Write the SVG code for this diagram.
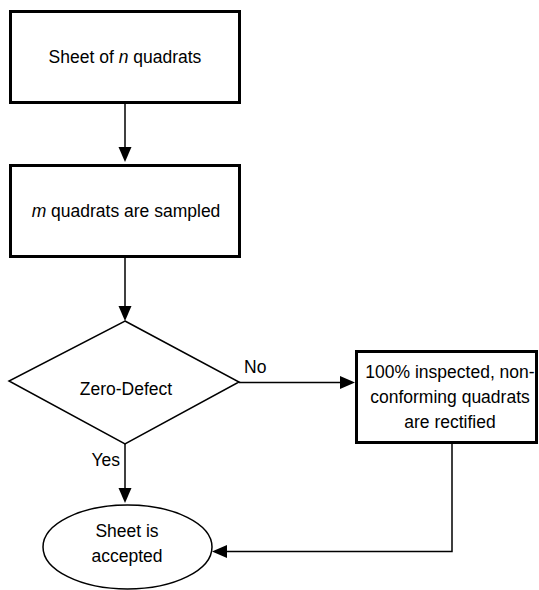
<svg xmlns="http://www.w3.org/2000/svg" width="539" height="590" viewBox="0 0 539 590">
<style>
  text { font-family: "Liberation Sans", Arial, sans-serif; font-size: 17.5px; fill: #000; }
  .c { text-anchor: middle; }
  .box { fill: #fff; stroke: #000; stroke-width: 3; }
  .thin { fill: #fff; stroke: #000; stroke-width: 1.5; }
  .conn { fill: none; stroke: #000; stroke-width: 1.5; }
</style>
<defs>
  <marker id="arr" markerUnits="userSpaceOnUse" markerWidth="16" markerHeight="14" refX="7" refY="6.5" orient="auto">
    <path d="M0,0 L15,6.5 L0,13 z" fill="#000"/>
  </marker>
</defs>
<rect width="539" height="590" fill="#fff"/>
<g id="n1">
  <rect class="box" x="10.5" y="11.5" width="229" height="91"/>
  <text class="c" x="125" y="63">Sheet of <tspan font-style="italic">n</tspan> quadrats</text>
</g>
<g id="n2">
  <rect class="box" x="10.5" y="165.5" width="229" height="91"/>
  <text class="c" x="126" y="217"><tspan font-style="italic">m</tspan> quadrats are sampled</text>
</g>
<g id="n3">
  <polygon class="thin" points="125,321 239,382 125,444 9,381"/>
  <text class="c" x="126" y="395">Zero-Defect</text>
</g>
<g id="n4">
  <rect class="box" x="356.5" y="351.5" width="180" height="91"/>
  <text class="c" x="450" y="378">100% inspected, non-</text>
  <text class="c" x="450" y="403">conforming quadrats</text>
  <text class="c" x="450" y="428">are rectified</text>
</g>
<g id="n5">
  <ellipse class="thin" cx="127.5" cy="547" rx="84.5" ry="42"/>
  <text class="c" x="127" y="537">Sheet is</text>
  <text class="c" x="127" y="562">accepted</text>
</g>
<g id="connectors">
  <line class="conn" x1="125" y1="103" x2="125" y2="154" marker-end="url(#arr)"/>
  <line class="conn" x1="125" y1="257" x2="125" y2="313" marker-end="url(#arr)"/>
  <line class="conn" x1="239" y1="382.5" x2="347" y2="382.5" marker-end="url(#arr)"/>
  <line class="conn" x1="125" y1="444" x2="125" y2="495" marker-end="url(#arr)"/>
  <polyline class="conn" points="452,443 452,551.5 220,551.5" marker-end="url(#arr)"/>
  <text x="244" y="373">No</text>
  <text x="120" y="466" text-anchor="end">Yes</text>
</g>
</svg>
